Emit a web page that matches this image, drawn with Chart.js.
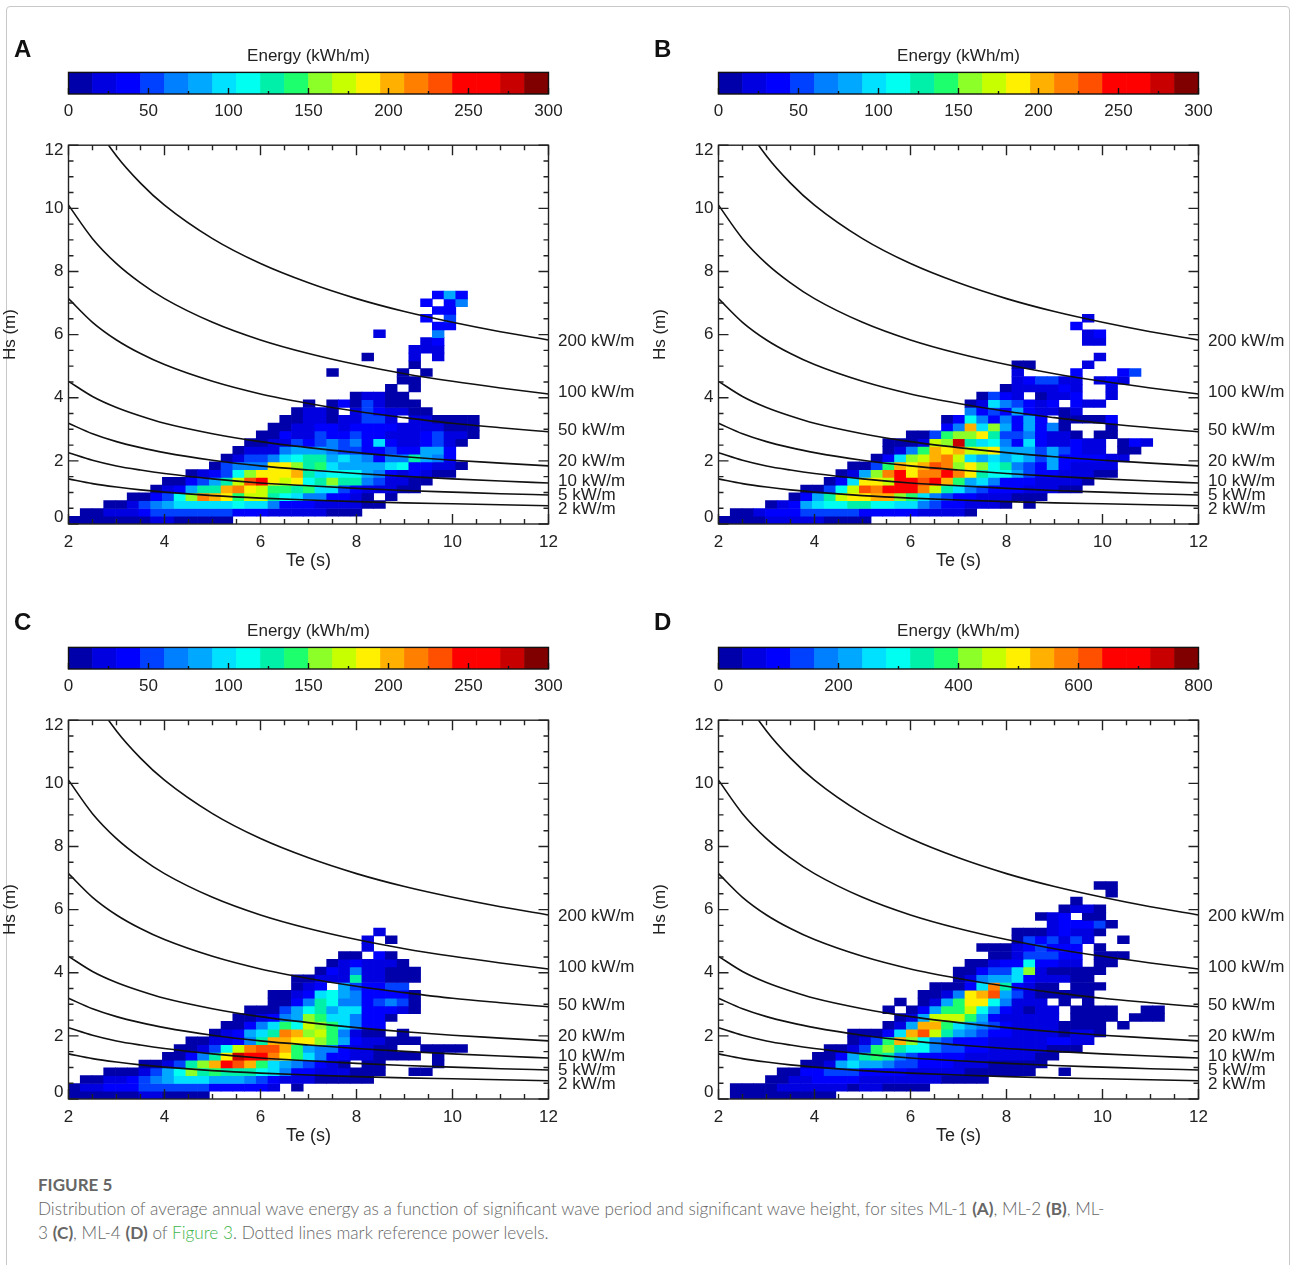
<!DOCTYPE html>
<html>
<head>
<meta charset="utf-8">
<title>Figure 5</title>
<script src="https://cdn.jsdelivr.net/npm/chart.js@4/dist/chart.umd.min.js"></script>
<style>
  html, body { margin: 0; padding: 0; background: #fff; }
  #page { position: relative; width: 1292px; height: 1265px; overflow: hidden; }
  #card { position: absolute; left: 6px; top: 6px; width: 1284px; height: 1300px; border: 1px solid #c8c8c8; border-radius: 4px; box-sizing: border-box; }
  canvas { position: absolute; }
  .letter { position: absolute; font: bold 24px "Liberation Sans", sans-serif; color: #111; }
  #fig { position: absolute; left: 38px; top: 1174px; font: bold 17px "Lato", sans-serif; color: #666; }
  #cap { position: absolute; left: 38px; top: 1197px; font: 300 17.2px/24px "Lato", sans-serif; color: #666; white-space: nowrap; }
  #cap b { font-weight: 700; }
  #cap span { color: #3db54a; }
</style>
</head>
<body>
<div id="page">
  <div id="card"></div>
  <div id="fig">FIGURE 5</div>
  <div id="cap">Distribution of average annual wave energy as a function of significant wave period and significant wave height, for sites ML-1 <b>(A)</b>, ML-2 <b>(B)</b>, ML-<br>3 <b>(C)</b>, ML-4 <b>(D)</b> of <span>Figure 3</span>. Dotted lines mark reference power levels.</div>
</div>
<script>
// Bin sizes of the grid (Te and Hs)
const binTe = 0.2445;
const binHs = 0.246;

// Colour bar levels, lowest first
const levelColors = ['#0000aa', '#0000e0', '#0000ff', '#0040ff', '#0080ff', '#00a8ff', '#00e0ff', '#00fff0',
    '#00f0aa', '#1eff6e', '#8cff28', '#c8ff00', '#fff000', '#ffb000', '#ff8000', '#ff5000',
    '#ff0000', '#ff0000', '#c80000', '#800000'];

// Reference power curves, Hs (m) against Te (s)
const curveTe = [2, 2.5, 3, 3.5, 4, 5, 6, 7, 8, 9, 10, 11, 12];
const hs200 = [14.29, 12.78, 11.66, 10.8, 10.1, 9.04, 8.25, 7.64, 7.14, 6.73, 6.39, 6.09, 5.83];
const hs100 = [10.1, 9.04, 8.25, 7.64, 7.14, 6.39, 5.83, 5.4, 5.05, 4.76, 4.52, 4.31, 4.12];
const hs50 = [7.14, 6.39, 5.83, 5.4, 5.05, 4.52, 4.12, 3.82, 3.57, 3.37, 3.19, 3.05, 2.92];
const hs20 = [4.52, 4.04, 3.69, 3.42, 3.19, 2.86, 2.61, 2.42, 2.26, 2.13, 2.02, 1.93, 1.84];
const hs10 = [3.19, 2.86, 2.61, 2.42, 2.26, 2.02, 1.84, 1.71, 1.6, 1.51, 1.43, 1.36, 1.3];
const hs5 = [2.26, 2.02, 1.84, 1.71, 1.6, 1.43, 1.3, 1.21, 1.13, 1.06, 1.01, 0.96, 0.92];
const hs2 = [1.43, 1.28, 1.17, 1.08, 1.01, 0.9, 0.82, 0.76, 0.71, 0.67, 0.64, 0.61, 0.58];
const curves = [hs200, hs100, hs50, hs20, hs10, hs5, hs2];
const curveLabels = ['200 kW/m', '100 kW/m', '50 kW/m', '20 kW/m', '10 kW/m', '5 kW/m', '2 kW/m'];
const curveLabelHs = [5.78, 4.17, 2.97, 1.99, 1.36, 0.92, 0.47];

// Energy per cell. One row per Hs bin from the bottom, each row starts at its column in the start list
const startA = [0, 1, 3, 5, 7, 8, 10, 12, 13, 14, 15, 16, 17, 18, 19, 20, 24, 27, 28, 22, 29, 25, 29, 30, 26, 31, 30, 31, 30, 31];
const energyA = [
    [8, 8, 8, 8, 8, 8, 8, 22, 22, 8, 8, 8, 8, 8],
    [8, 8, 22, 22, 22, 38, 52, 52, 52, 52, 52, 52, 52, 38, 38, 38, 22, 22, 22, 22, 22, 8, 8, 8],
    [8, 8, 22, 52, 68, 82, 98, 98, 98, 98, 98, 112, 98, 98, 68, 38, 38, 38, 22, 22, 22, 22, 8, 8],
    [8, 8, 38, 52, 112, 158, 218, 202, 188, 142, 172, 172, 128, 112, 98, 68, 68, 38, 38, 22, 8, null, 8],
    [8, 22, 38, 82, 128, 128, 202, 218, 188, 172, 142, 142, 128, 142, 98, 98, 52, 38, 22, 22, 22, 8, 8],
    [8, 8, 38, 52, 82, 128, 172, 232, 248, 188, 172, 188, 112, 128, 158, 128, 128, 68, 52, 22, 22, 8, 8],
    [8, 22, 38, 52, 112, 158, 188, 188, 188, 202, 128, 98, 112, 112, 112, 82, 68, 38, 22, 38, 22, 8, 8],
    [8, 52, 68, 68, 68, 188, 188, 158, 128, 142, 98, 82, 82, 82, 82, 98, 112, 38, 38, 22, 22, 8],
    [8, 22, 52, 52, 68, 98, 112, 128, 128, 82, 98, 82, 68, 38, 68, 68, 128, 82, 68, 38],
    [8, 22, 22, 22, 68, 82, 82, 82, 68, 52, 52, 38, 38, 52, 38, 38, 82, 82, 38],
    [8, 8, 22, 22, 52, 38, 52, 68, 52, 68, 38, 98, 38, 22, 22, 38, 52, 22, 8],
    [8, 8, 38, 22, 22, 52, 38, 38, 52, 38, 38, 22, 22, 22, 38, 52, 22, 22, 8],
    [8, 8, 22, 22, 38, 38, 22, 38, 38, 38, 38, 22, 22, 22, 22, 8, 8, 8],
    [8, 8, 22, 22, 8, 22, 22, 52, 52, 22, null, 22, 22, 8, 8, 8, 8],
    [8, 22, 22, 8, null, 22, 52, 38, 22, 22, 8, 8],
    [8, null, 8, 38, 8, 52, 22, 8, 8, 8],
    [8, 22, 22, 8, 8],
    [8, null, 8],
    [8, 8],
    [8, null, null, null, null, null, 8, null, 8],
    [8],
    [8, null, null, null, 22, null, 22],
    [22, 22, 22],
    [22, 38],
    [22, null, null, null, null, 68],
    [38, 38],
    [38, null, 52],
    [38, 38],
    [38, null, 38, 68],
    [38, 82, 38]
];

const startB = [0, 1, 4, 6, 7, 9, 10, 11, 13, 14, 14, 16, 19, 19, 21, 21, 22, 24, 25, 25, 25, 32, 0, 31, 31, 30, 31];
const energyB = [
    [8, 8, 8, 8, 22, 22, 22, 22, 22, 8, 8, 8, 8],
    [8, 8, 22, 38, 38, 38, 52, 52, 52, 52, 52, 38, 38, 38, 38, 38, 22, 22, 22, 22, 8],
    [8, 22, 38, 82, 98, 112, 112, 128, 128, 112, 112, 98, 98, 68, 52, 38, 38, 22, 22, 22, 8, null, 8],
    [8, 38, 82, 128, 172, 188, 188, 202, 202, 158, 142, 98, 68, 52, 38, 38, 22, 22, 22, 8, 8, 8],
    [8, 8, 52, 112, 172, 232, 218, 248, 248, 248, 218, 172, 128, 98, 68, 52, 38, 38, 38, 22, 22, 22, 8, 8],
    [8, 38, 98, 188, 188, 172, 248, 248, 232, 248, 202, 142, 82, 98, 68, 38, 38, 38, 22, 22, 22, 22, 8],
    [8, 22, 82, 158, 218, 262, 188, 218, 218, 248, 218, 188, 128, 112, 112, 82, 52, 38, 38, 22, 22, 22, 8, 8],
    [8, 8, 52, 142, 202, 188, 202, 232, 218, 158, 188, 158, 112, 128, 68, 52, 38, 82, 38, 22, 22, 22, 22],
    [8, 38, 98, 158, 172, 202, 218, 172, 98, 82, 98, 82, 98, 82, 52, 82, 38, 38, 38, 38, 22, 22],
    [8, 22, 68, 142, 202, 188, 202, 172, 172, 188, 82, 82, 82, 52, 82, 52, 38, 22, 22, null, 8, 8],
    [8, 8, 8, 22, 172, 158, 278, 128, 98, 112, 68, 38, 98, 38, 22, 22, 38, 22, 22, null, 8, 38, 22],
    [8, 8, 52, 142, 158, 158, 188, 128, 52, 52, 68, 38, 22, 22, 8, null, 8, 8],
    [38, 68, 202, 98, 158, 82, 38, 82, 38, 68, 8, null, null, null, 8],
    [8, 38, 112, 68, 38, 68, 38, 82, 38, null, 8, 8, 8, 8, 38],
    [68, 38, 52, 38, 82, 38, 22, 22, 8, 22],
    [8, 22, 98, 68, 52, 38, 22, 38, null, 38, 22, 22],
    [8, 52, 38, 22, null, 8, 22, 22, 38, null, null, 22],
    [8, 22, 22, 22, 22, 38, 22, null, null, 22],
    [22, 38, 52, 52, 22, 22, null, 22, 38, 22],
    [22, null, null, null, null, 38, null, null, null, 38, 52],
    [8, 8, null, null, null, null, 22],
    [22],
    [],
    [22, 22],
    [22, 38],
    [38],
    [22]
];

const startC = [0, 0, 1, 3, 6, 8, 9, 10, 12, 13, 14, 15, 17, 17, 19, 19, 21, 22, 23, 25, 25, 26];
const energyC = [
    [8, 8, 8, 8, 8, 8, 22, 22, 8, 8, 8, 8],
    [8, 22, 22, 38, 38, 38, 52, 52, 52, 52, 52, 52, 38, 38, 38, 38, 38, 22, null, 8],
    [8, 8, 22, 22, 38, 52, 68, 82, 98, 98, 98, 82, 82, 82, 68, 52, 38, 22, 22, 22, 8, 8, 8, 8, 8],
    [8, 8, 8, 22, 52, 82, 112, 158, 128, 142, 128, 128, 128, 112, 98, 68, 38, 38, 22, 22, 22, 8, 8, 8, null, null, 8, 8],
    [8, 8, 22, 52, 128, 158, 202, 248, 232, 202, 142, 98, 82, 68, 52, 38, 22, 8, null, 8, 8, null, null, null, null, 8],
    [8, 8, 38, 68, 128, 188, 278, 262, 248, 218, 188, 142, 98, 68, 38, 38, 22, 22, 8, 8, 8, 8, null, 8],
    [8, 8, 22, 52, 112, 172, 218, 232, 232, 202, 142, 82, 68, 68, 38, 22, 22, 8, 8, null, null, 8, 8, 8, 8],
    [8, 8, 22, 22, 38, 68, 128, 202, 202, 188, 188, 158, 142, 82, 38, 22, 22, 8, 8, 8],
    [8, 22, 38, 82, 98, 128, 218, 202, 158, 172, 142, 68, 22, 8, 8, null, 8],
    [8, 8, 38, 68, 98, 142, 112, 172, 158, 142, 98, 68, 38, 38],
    [8, 8, 22, 38, 68, 82, 158, 142, 98, 98, 68, 38, 38, 8],
    [8, 8, 8, 52, 82, 112, 128, 82, 98, 98, 38, 38, 38, 22, 8],
    [8, 8, 38, 68, 128, 112, 68, 68, 38, 52, 68, 52, 8],
    [8, 8, 22, 38, 98, 112, 82, 68, 38, 38, 38, 38, 8],
    [8, 22, 38, null, 82, 52, 38, 38, 52, 52],
    [8, 8, 22, 22, 22, 128, 22, 22, 8, 8, 8],
    [8, 38, 22, 68, 22, 22, 8, 8, 8],
    [8, 22, 38, 22, 22, 22, 8],
    [8, 8, null, 38, 8],
    [22],
    [22, null, 8],
    [22]
];

const startD = [1, 1, 4, 5, 7, 8, 9, 11, 11, 14, 15, 14, 15, 17, 18, 20, 20, 21, 23, 22, 25, 25, 28, 27, 29, 30, 33, 32];
const energyD = [
    [20, 20, 20, 20, 20, 20, 20, 20, 20],
    [20, 20, 20, 20, 60, 60, 60, 60, 60, 60, 20, 60, 60, 20, 20, 20, 20],
    [20, 20, 60, 60, 100, 100, 100, 100, 60, 60, 60, 60, 60, 60, 60, 20, 20, 20, 20],
    [20, 20, 100, 100, 140, 140, 140, 100, 100, 100, 100, 60, 60, 60, 60, 60, 20, 20, 20, 20, 20, 20, null, null, 20],
    [20, 20, 60, 220, 260, 220, 220, 180, 140, 140, 100, 100, 100, 60, 60, 60, 20, 20, 20, 20, 20],
    [20, 20, 100, 220, 340, 380, 340, 180, 140, 100, 100, 100, 100, 60, 60, 60, 60, 60, 60, 20, 20],
    [20, 20, 60, 140, 380, 420, 340, 300, 300, 180, 140, 140, 100, 100, 60, 60, 60, 60, 60, 20, 20, 20],
    [20, 60, 140, 380, 540, 420, 300, 180, 140, 100, 100, 100, 60, 60, 60, 60, 60, 100, 100, 60, 60],
    [20, 20, 20, 100, 260, 540, 620, 460, 340, 220, 180, 140, 100, 100, 60, 60, 60, 60, 20, 60, 60, 20],
    [20, 60, 220, 540, 540, 380, 260, 220, 180, 140, 100, 60, 60, 60, 60, 20, 20, 20, 20, null, 20],
    [20, 60, 220, 460, 460, 460, 380, 220, 100, 60, 60, 60, 60, 60, null, 20, 20, 20, 20, null, 20, 20, 20],
    [20, null, 20, 100, 220, 380, 380, 460, 300, 180, 100, 60, 20, 60, 60, null, 20, 20, 20, 20, null, null, 20, 20],
    [20, null, 20, 60, 220, 380, 500, 500, 300, 180, 60, 60, 60, null, 20, null, 20],
    [20, 20, 60, 180, 500, 540, 620, 220, 140, 60, 20, 20, 20, 20, 20],
    [20, 20, 20, 100, 260, 580, 340, 100, 60, 20, 20, null, 20, 20, 20],
    [20, 60, 180, 220, 220, 260, 100, 60, 60, 60, 20, 20],
    [20, 20, 100, 140, 140, 260, 420, 60, 20, 20, 20, 20, 20],
    [20, 20, 60, 100, 100, 300, 100, 100, 60, 60, null, 20, 20],
    [20, 20, 60, 140, 140, 140, 100, 100, null, 20, 20, 20],
    [20, 20, 20, 60, 100, 140, 100, 100, 100, null, 20],
    [20, 140, 100, 140, 60, 140, 60, null, null, 20],
    [20, 20, 20, 60, 100, 60, 60, 20],
    [60, 100, 100, 100, 140, 20],
    [20, 60, 100, null, 20, 20],
    [20, 60, 60, 20],
    [20],
    [20],
    [20, 20]
];

// Tick values
const teTicks = [2, 12];
const hsTicks = [0, 12];
const barMaxSmall = 300;
const barMaxLarge = 800;

const fontName = '"Liberation Sans", Arial, sans-serif';
const textColor = '#222';

function levelColor(value, maxValue) {
    let i = Math.floor(value / maxValue * levelColors.length);
    return levelColors[Math.min(i, levelColors.length - 1)];
}

// Turn the rows into floating bars, one bar per cell
function buildCells(starts, rows) {
    let cells = [];
    rows.forEach((row, r) => {
        row.forEach((value, i) => {
            if (value === null) return;
            let col = starts[r] + i;
            cells.push({ x: 2 + (col + 0.5) * binTe, y: [r * binHs, (r + 1) * binHs], v: value });
        });
    });
    return cells;
}

// Inward ticks and frame around the plot
function range(from, to, step) {
    let out = [];
    for (let v = from; v <= to + 1e-9; v += step) out.push(v);
    return out;
}

const plotFrame = {
    id: 'plotFrame',
    afterDraw(chart) {
        const { ctx, chartArea: a, scales } = chart;
        ctx.save();
        ctx.strokeStyle = textColor;
        ctx.lineWidth = 1.4;
        ctx.strokeRect(a.left, a.top, a.right - a.left, a.bottom - a.top);
        ctx.beginPath();
        range(2, 12, 0.5).forEach(v => {
            let len = v % 2 === 0 ? 10 : 5;
            let px = scales.x.getPixelForValue(v);
            ctx.moveTo(px, a.bottom); ctx.lineTo(px, a.bottom - len);
            ctx.moveTo(px, a.top); ctx.lineTo(px, a.top + len);
        });
        range(0, 12, 0.5).forEach(v => {
            let len = v % 2 === 0 ? 10 : 5;
            let py = scales.y.getPixelForValue(v);
            ctx.moveTo(a.left, py); ctx.lineTo(a.left + len, py);
            ctx.moveTo(a.right, py); ctx.lineTo(a.right - len, py);
        });
        ctx.stroke();

        // Power level labels right of the plot
        ctx.fillStyle = textColor;
        ctx.font = '17px ' + fontName;
        ctx.textBaseline = 'middle';
        ctx.textAlign = 'left';
        curveLabels.forEach((text, i) => {
            ctx.fillText(text, a.right + 9.5, scales.y.getPixelForValue(curveLabelHs[i]));
        });

        // The first and last Hs labels sit inside the axis ends
        ctx.textAlign = 'right';
        ctx.fillText('12', a.left - 5, scales.y.getPixelForValue(hsTicks[1]) + 5);
        ctx.fillText('0', a.left - 5, scales.y.getPixelForValue(hsTicks[0]) - 7);
        ctx.restore();
    }
};

const barFrame = {
    id: 'barFrame',
    afterDraw(chart) {
        const { ctx, chartArea: a, scales } = chart;
        const major = scales.x.max === barMaxLarge ? 200 : 50;
        ctx.save();
        ctx.strokeStyle = '#111';
        ctx.lineWidth = 1.4;
        ctx.strokeRect(a.left, a.top, a.right - a.left, a.bottom - a.top);
        ctx.beginPath();
        range(0, scales.x.max, major / 2).forEach((v, i) => {
            let px = scales.x.getPixelForValue(v);
            ctx.moveTo(px, a.bottom); ctx.lineTo(px, a.bottom - (i % 2 === 0 ? 6 : 3));
        });
        ctx.stroke();
        ctx.restore();
    }
};

function addCanvas(left, top, width, height) {
    let canvas = document.createElement('canvas');
    canvas.width = width;
    canvas.height = height;
    canvas.style.left = left + 'px';
    canvas.style.top = top + 'px';
    canvas.style.width = width + 'px';
    canvas.style.height = height + 'px';
    document.getElementById('page').appendChild(canvas);
    return canvas;
}

function createPlot(left, top, starts, rows, maxEnergy) {
    const canvas = addCanvas(left, top, 640, 450);
    const cells = buildCells(starts, rows);
    const lineSets = curves.map(hs => ({
        type: 'line',
        data: curveTe.map((te, i) => ({ x: te, y: hs[i] })),
        borderColor: '#111',
        borderWidth: 1.6,
        pointRadius: 0,
        cubicInterpolationMode: 'monotone',
        order: 0
    }));
    return new Chart(canvas.getContext('2d'), {
        type: 'bar',
        data: {
            datasets: [{
                data: cells,
                backgroundColor: cells.map(c => levelColor(c.v, maxEnergy)),
                barThickness: binTe * 48,
                order: 1
            }].concat(lineSets)
        },
        options: {
            responsive: false,
            animation: false,
            layout: { padding: { top: 14, right: 91.5, left: 0, bottom: 0 } },
            plugins: { legend: { display: false }, tooltip: { enabled: false } },
            scales: {
                x: {
                    type: 'linear',
                    offset: false,
                    min: teTicks[0],
                    max: teTicks[1],
                    afterFit(scale) { scale.height = 56; },
                    grid: { display: false, drawTicks: false },
                    border: { display: false },
                    ticks: { stepSize: 2, padding: 8, color: textColor, font: { family: fontName, size: 17 } },
                    title: { display: true, text: 'Te (s)', color: textColor, padding: { top: 0, bottom: 8 }, font: { family: fontName, size: 18 } }
                },
                y: {
                    min: hsTicks[0],
                    max: hsTicks[1],
                    afterFit(scale) { scale.width = 68.5; },
                    grid: { display: false, drawTicks: false },
                    border: { display: false },
                    ticks: {
                        stepSize: 2,
                        padding: 5,
                        color: textColor,
                        font: { family: fontName, size: 17 },
                        callback: v => (v === hsTicks[0] || v === hsTicks[1]) ? '' : v
                    },
                    title: { display: true, text: 'Hs (m)', color: textColor, padding: { top: 0, bottom: 0 }, font: { family: fontName, size: 17 } }
                }
            }
        },
        plugins: [plotFrame]
    });
}

function createColorBar(left, top, maxEnergy) {
    const canvas = addCanvas(left, top, 617, 85);
    const step = maxEnergy / levelColors.length;
    const segments = levelColors.map((c, i) => ({ x: [i * step, (i + 1) * step], y: 0 }));
    return new Chart(canvas.getContext('2d'), {
        type: 'bar',
        data: {
            datasets: [{ data: segments, backgroundColor: levelColors, barThickness: 24 }]
        },
        options: {
            indexAxis: 'y',
            responsive: false,
            animation: false,
            layout: { padding: { left: 68.5, right: 68.5 } },
            plugins: {
                legend: { display: false },
                tooltip: { enabled: false },
                title: { display: true, text: 'Energy (kWh/m)', color: textColor, padding: { top: 6, bottom: 6 }, font: { family: fontName, size: 17, weight: 'normal', lineHeight: 1.2 } }
            },
            scales: {
                x: {
                    type: 'linear',
                    min: 0,
                    max: maxEnergy,
                    afterFit(scale) { scale.height = 31; },
                    grid: { display: false, drawTicks: false },
                    border: { display: false },
                    ticks: { stepSize: maxEnergy === barMaxLarge ? 200 : 50, padding: 7, color: textColor, font: { family: fontName, size: 17 } }
                },
                y: { type: 'linear', display: false, offset: false, min: -0.5, max: 0.5 }
            }
        },
        plugins: [barFrame]
    });
}

function addLetter(text, left, top) {
    let el = document.createElement('div');
    el.className = 'letter';
    el.textContent = text;
    el.style.left = left + 'px';
    el.style.top = top + 'px';
    document.getElementById('page').appendChild(el);
}

window.onload = function() {
    createColorBar(0, 40, barMaxSmall);
    createPlot(0, 130, startA, energyA, barMaxSmall);
    addLetter('A', 14, 35);

    createColorBar(649.5, 40, barMaxSmall);
    createPlot(649.5, 130, startB, energyB, barMaxSmall);
    addLetter('B', 654, 35);

    createColorBar(0, 615, barMaxSmall);
    createPlot(0, 705, startC, energyC, barMaxSmall);
    addLetter('C', 14, 608);

    createColorBar(649.5, 615, barMaxLarge);
    createPlot(649.5, 705, startD, energyD, barMaxLarge);
    addLetter('D', 654, 608);
};
</script>
</body>
</html>
